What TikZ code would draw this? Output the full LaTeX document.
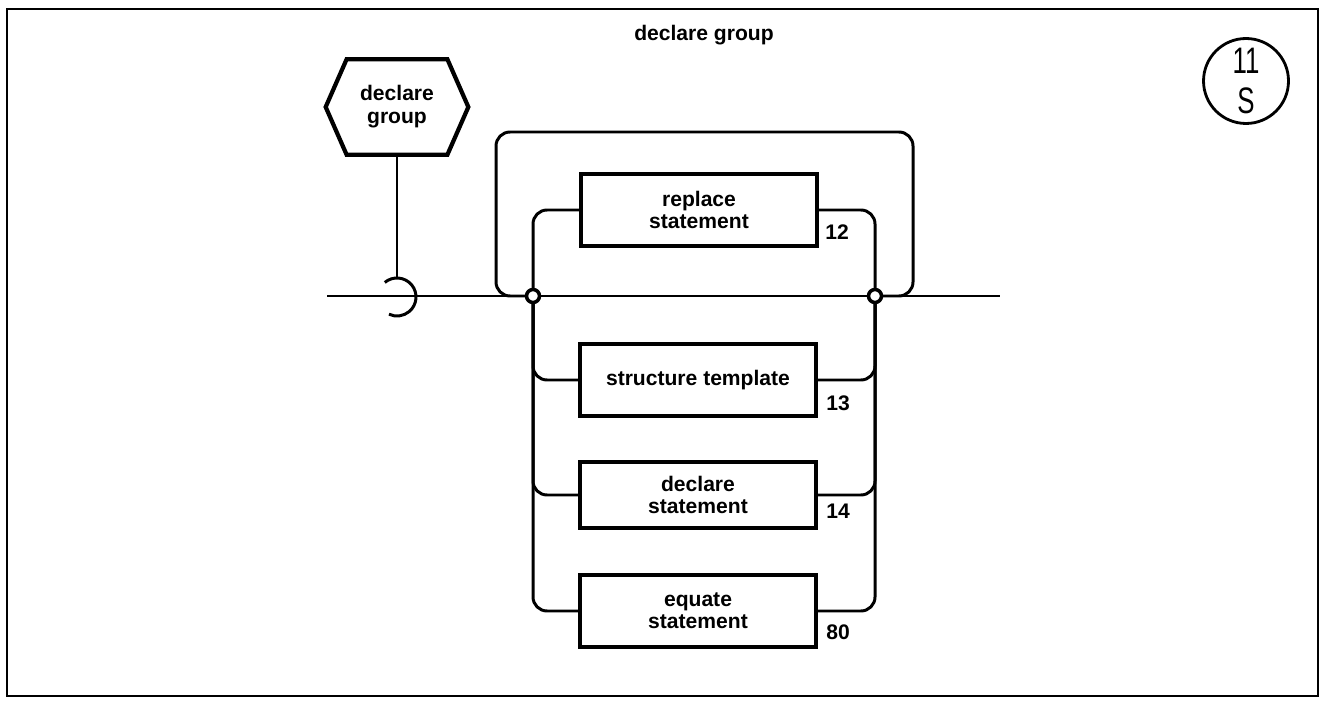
\documentclass[tikz,border=0pt]{standalone}
\usepackage{fontspec}
\setmainfont{Liberation Sans}
\usetikzlibrary{calc,backgrounds}
\tikzset{
  flow/.style={line width=1.7pt,rounded corners=8pt},            % syntax line
  synbox/.style={draw,line width=2.4pt,minimum width=4.72cm,minimum height=1.44cm,
    align=center,font=\bfseries\fontsize{12}{12.5}\selectfont},  % syntax element
  hexnode/.style={minimum width=2cm,minimum height=1.9cm,align=center,
    font=\bfseries\fontsize{12}{13}\selectfont},                 % diagram name
  junc/.style={circle,draw,fill=white,line width=2pt,inner sep=0pt,minimum size=0.26cm},
  refno/.style={anchor=base west,inner sep=0pt,font=\bfseries\fontsize{12}{14}\selectfont},
  pageno/.style={circle,draw,line width=1.6pt,minimum size=1.7cm,inner sep=0pt,
    align=center,font=\fontsize{21}{23}\selectfont},
}

\begin{document}
\begin{tikzpicture}[x=0.02cm,y=-0.02cm]
  \useasboundingbox (0,0) rectangle (1321,702);
  \draw[line width=1.3pt] (7,9) rectangle (1318,696);
  \node[font=\bfseries\fontsize{12}{14}\selectfont] (title) at (704,35) {declare group};
  \node[pageno] (page) at (1246,81) {\scalebox{0.7}[1]{11}\\\scalebox{0.7}[1]{S}};

  % name of the diagram
  \node[hexnode] (hex) at (397,107) {declare\\group};
  \draw[line width=2.4pt] ($(hex.west)+(-21,0)$) -- (hex.north west) -- (hex.north east)
    -- ($(hex.east)+(21,0)$) -- (hex.south east) -- (hex.south west) -- cycle;
  \coordinate (hookc) at (397,297);

  % alternatives
  \node[synbox] (rep) at (699,210) {replace\\statement};
  \node[synbox] (str) at (698,380) {structure template};
  \node[synbox,minimum height=1.32cm] (dec) at (698,495) {declare\\statement};
  \node[synbox] (equ) at (698,611) {equate\\statement};
  \node[refno] (n12) at ($(rep.south east)+(6,-9)$) {12};
  \node[refno] (n13) at ($(str.south east)+(8,-8)$) {13};
  \node[refno] (n14) at ($(dec.south east)+(8,-12)$) {14};
  \node[refno] (n80) at ($(equ.south east)+(8,-10)$) {80};

  \node[junc] (jL) at (533,296) {}; \node[junc] (jR) at (875,296) {};
  \coordinate (in) at (327,296); \coordinate (out) at (1000,296);
  \coordinate (loopL) at (496,132); \coordinate (loopR) at (913,132);

  \begin{scope}[on background layer]
    \draw[flow] (in) -- (jL.center) -- (jR.center) -- (out);
    \draw[flow] (hex.south) -- ($(hookc)+(0,-19)$);
    \draw[line width=1.7pt] ($(hookc)+(-130:19)$) arc[start angle=-130,end angle=115,radius=19];
    \draw[flow] (jR.center) -| (loopR) -- (loopL) |- (jL.center);
    \foreach \b in {rep,str,dec,equ}{
      \draw[flow] (jL.center) |- (\b.west);
      \draw[flow] (\b.east) -| (jR.center);
    }
  \end{scope}
\end{tikzpicture}
\end{document}
